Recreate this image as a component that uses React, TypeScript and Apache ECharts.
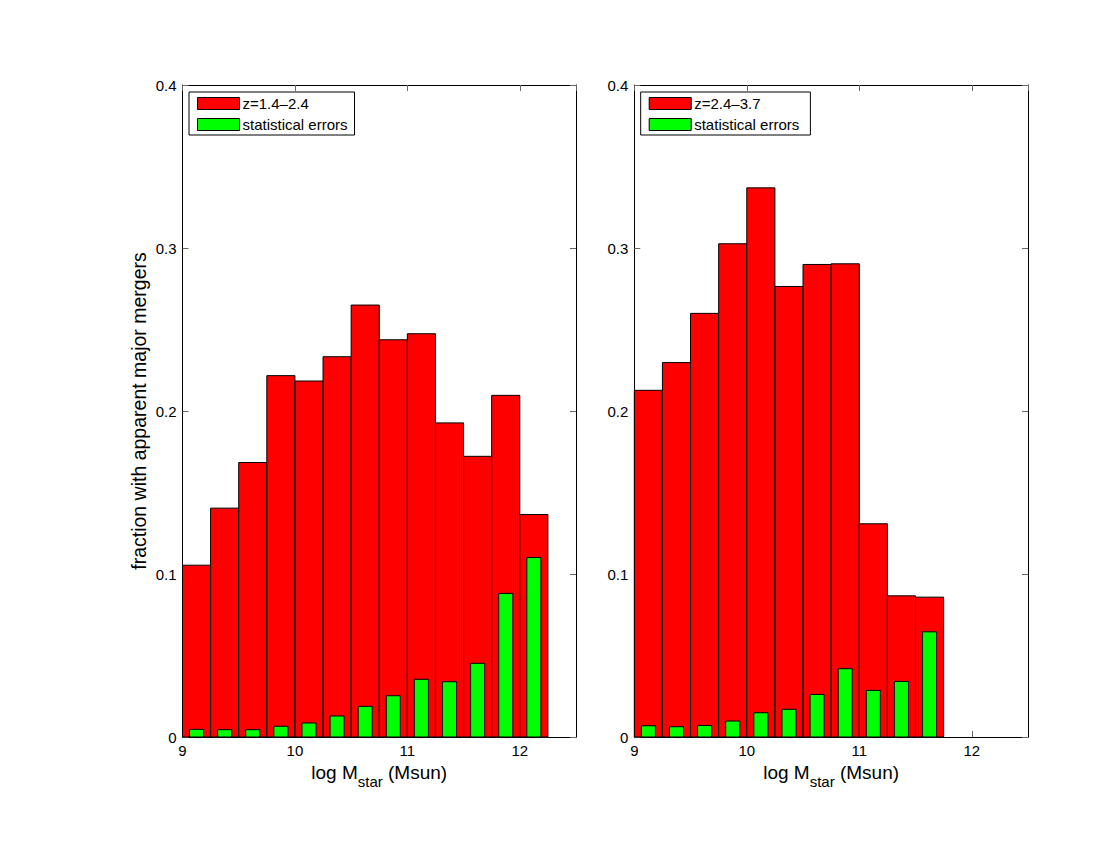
import React, { useEffect, useRef } from "react";
import * as echarts from "echarts";

const FONT = "Liberation Sans, Arial, Helvetica, sans-serif";

// Bin centres (log Mstar), bin width 0.25
const binCentersLeft = [9.125, 9.375, 9.625, 9.875, 10.125, 10.375, 10.625, 10.875, 11.125, 11.375, 11.625, 11.875, 12.125];
const fractionLeft = [0.1054, 0.1404, 0.1684, 0.2217, 0.2184, 0.2333, 0.265, 0.2437, 0.2474, 0.1927, 0.1722, 0.2096, 0.1365];
const errorsLeft = [0.0047, 0.0045, 0.0045, 0.0066, 0.0086, 0.0129, 0.0188, 0.0253, 0.0354, 0.0339, 0.0452, 0.0881, 0.1101];

const binCentersRight = [9.125, 9.375, 9.625, 9.875, 10.125, 10.375, 10.625, 10.875, 11.125, 11.375, 11.625];
const fractionRight = [0.2127, 0.2297, 0.2599, 0.3026, 0.3369, 0.2764, 0.2899, 0.2903, 0.1308, 0.0866, 0.0858];
const errorsRight = [0.0069, 0.0063, 0.0071, 0.0098, 0.0149, 0.017, 0.0261, 0.0419, 0.0286, 0.0341, 0.0645];

const xTicks = [9, 10, 11, 12];
const yTicks = [0, 0.1, 0.2, 0.3, 0.4];

const legendLeft = ["z=1.4\u20132.4", "statistical errors"];
const legendRight = ["z=2.4\u20133.7", "statistical errors "];

const RED = "#ff0000";
const GREEN = "#00ff00";

function rectSeries(name: string, centers: number[], values: number[], halfWidth: number, color: string, idx: number) {
  return {
    type: "custom",
    name,
    xAxisIndex: idx * 2,
    yAxisIndex: idx * 2,
    itemStyle: { color, borderColor: "#000", borderWidth: 1 },
    data: centers.map((c, i) => [c, values[i]]),
    encode: { x: 0, y: 1 },
    renderItem: (params: any, api: any) => {
      const c = api.value(0);
      const v = api.value(1);
      const p0 = api.coord([c - halfWidth, v]);
      const p1 = api.coord([c + halfWidth, 0]);
      return {
        type: "rect",
        shape: { x: p0[0], y: p0[1], width: p1[0] - p0[0], height: p1[1] - p0[1] },
        style: { fill: color, stroke: "#000", lineWidth: 1 },
      };
    },
  };
}

function xAxisPair(gridIndex: number) {
  const base = {
    type: "value",
    gridIndex,
    min: 9,
    max: 12.5,
    interval: 1,
    splitLine: { show: false },
    axisLine: { show: true, onZero: false, lineStyle: { color: "#000", width: 1 } },
    axisTick: { show: true, inside: true, length: 6, lineStyle: { color: "#666" } },
  };
  return [
    {
      ...base,
      position: "bottom",
      axisLabel: {
        show: true,
        color: "#000",
        fontFamily: FONT,
        fontSize: 15,
        margin: 6,
        formatter: (v: number) => (xTicks.indexOf(v) >= 0 ? String(v) : ""),
        showMaxLabel: false,
      },
      nameLocation: "middle",
      nameGap: 13,
      name: "{a|log M}{b|star}{a| (Msun)}",
      nameTextStyle: {
        rich: {
          a: { fontSize: 19, fontFamily: FONT, color: "#000", lineHeight: 22 },
          b: { fontSize: 15, fontFamily: FONT, color: "#000", padding: [18, 0, 0, 0] },
        },
      },
    },
    { ...base, position: "top", axisLabel: { show: false } },
  ];
}

function yAxisPair(gridIndex: number, withName: boolean) {
  const base = {
    type: "value",
    gridIndex,
    min: 0,
    max: 0.4,
    interval: 0.1,
    splitLine: { show: false },
    axisLine: { show: true, onZero: false, lineStyle: { color: "#000", width: 1 } },
    axisTick: { show: true, inside: true, length: 6, lineStyle: { color: "#666" } },
  };
  return [
    {
      ...base,
      position: "left",
      axisLabel: {
        show: true,
        color: "#000",
        fontFamily: FONT,
        fontSize: 15,
        margin: 6,
        formatter: (v: number) => {
          const t = yTicks.find((y) => Math.abs(y - v) < 1e-9);
          return t === undefined ? "" : String(t);
        },
      },
      name: withName ? "fraction with apparent major mergers" : "",
      nameLocation: "middle",
      nameGap: 34,
      nameTextStyle: { fontSize: 19.5, fontFamily: FONT, color: "#000" },
    },
    { ...base, position: "right", axisLabel: { show: false } },
  ];
}

function legendBlock(names: string[], left: number) {
  return {
    orient: "vertical",
    left,
    top: 92,
    padding: [4, 7, 3, 8],
    itemGap: 6,
    itemWidth: 42,
    itemHeight: 12,
    icon: "rect",
    backgroundColor: "#fff",
    borderColor: "#000",
    borderWidth: 1,
    borderRadius: 0,
    selectedMode: false,
    textStyle: { fontFamily: FONT, fontSize: 15, color: "#000", padding: [0, 0, 0, -2] },
    data: [
      { name: names[0], itemStyle: { color: RED, borderColor: "#000", borderWidth: 1 } },
      { name: names[1], itemStyle: { color: GREEN, borderColor: "#000", borderWidth: 1 } },
    ],
  };
}

export default function App() {
  const ref = useRef<HTMLDivElement>(null);
  useEffect(() => {
    if (!ref.current) return;
    const chart = echarts.init(ref.current, undefined, { renderer: "svg" });
    const xl = xAxisPair(0);
    const xr = xAxisPair(1);
    const yl = yAxisPair(0, true);
    const yr = yAxisPair(1, false);
    chart.setOption({
      animation: false,
      backgroundColor: "#fff",
      grid: [
        { left: 182.5, right: 524, top: 85, bottom: 113, containLabel: false },
        { left: 634.3, right: 72, top: 85, bottom: 113, containLabel: false },
      ],
      xAxis: [xl[0], xl[1], xr[0], xr[1]],
      yAxis: [yl[0], yl[1], yr[0], yr[1]],
      legend: [legendBlock(legendLeft, 189), legendBlock(legendRight, 640.7)],
      series: [
        rectSeries(legendLeft[0], binCentersLeft, fractionLeft, 0.125, RED, 0),
        rectSeries(legendLeft[1], binCentersLeft, errorsLeft, 0.0625, GREEN, 0),
        rectSeries(legendRight[0], binCentersRight, fractionRight, 0.125, RED, 1),
        rectSeries(legendRight[1], binCentersRight, errorsRight, 0.0625, GREEN, 1),
      ],
    });
    return () => chart.dispose();
  }, []);
  return (
    <div
      ref={ref}
      style={{ position: "absolute", left: 0, top: 0, width: 1100, height: 850, background: "#fff" }}
    />
  );
}
